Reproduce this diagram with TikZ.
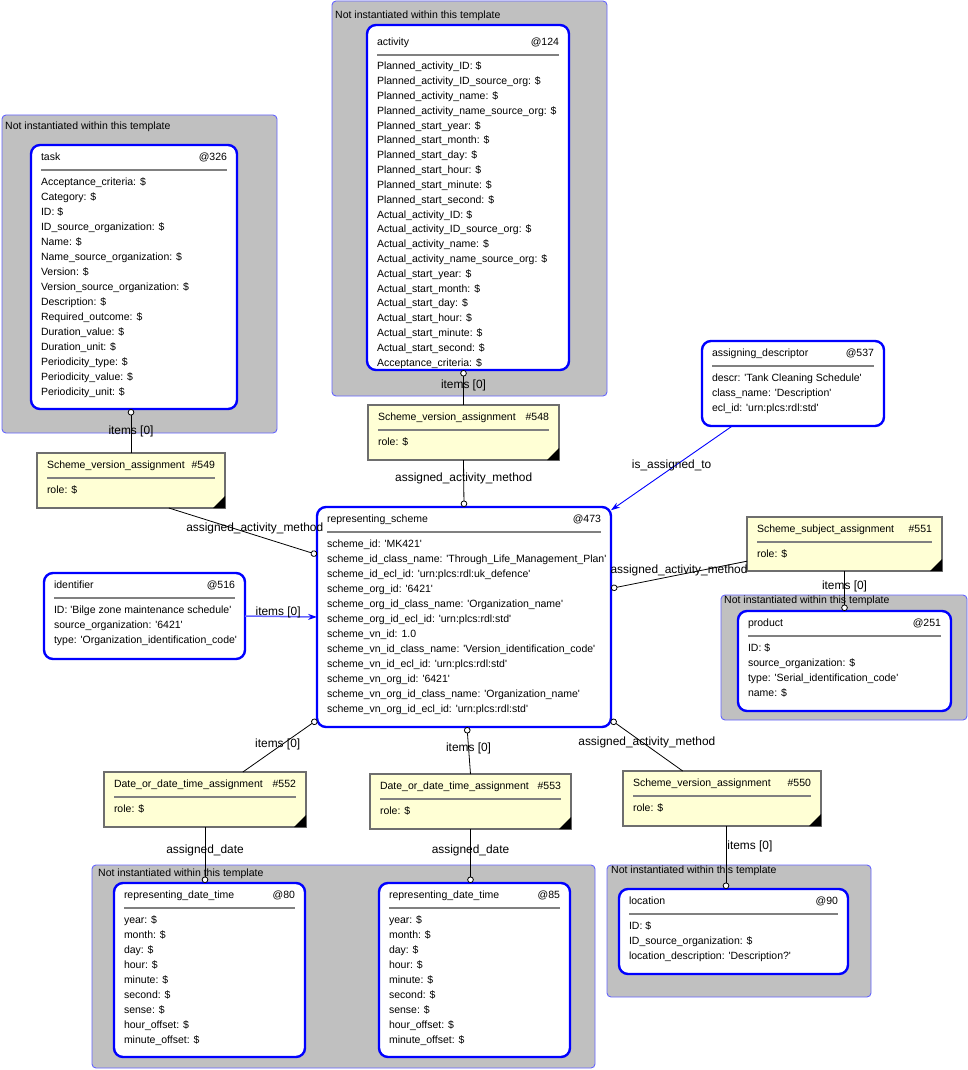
\documentclass[tikz,border=0pt]{standalone}
\usepackage{fontspec}
\setmainfont{Liberation Sans}[Ligatures=TeXOff]
\usetikzlibrary{arrows.meta}

\definecolor{umlBlue}{RGB}{0,0,255}
\definecolor{regionGray}{RGB}{192,192,192}
\definecolor{regionBlue}{RGB}{100,100,255}
\definecolor{noteYellow}{RGB}{255,255,213}
\definecolor{noteEdge}{RGB}{110,110,110}
\definecolor{ruleGray}{RGB}{128,128,128}

\newcommand{\attrfont}{\fontsize{10.5}{15}\selectfont}
\newcommand{\lblfont}{\fontsize{11.9}{14}\selectfont}
% body of a box: [extra] {width} {height} {title} {id} {lines}
\newcommand{\ebody}[6][]{%
  \parbox[t][#3pt][t]{#2pt}{#1\strut #4 \hfill #5\par
    \vskip4pt{\color{ruleGray}\hrule height 1.6pt}\vskip4pt
    \begin{tabular}[t]{@{}l@{}}#6\end{tabular}}}

\tikzset{
  region/.style={fill=regionGray, draw=regionBlue, line width=0.9pt, rounded corners=4pt},
  regionlbl/.style={font=\attrfont, anchor=base west, inner sep=0pt},
  entity/.style={draw=umlBlue, line width=2.4pt, rounded corners=9pt, fill=white,
    anchor=north west, inner xsep=10pt, inner ysep=5pt, outer sep=0pt, font=\attrfont},
  assign/.style={draw=noteEdge, line width=1.4pt, fill=noteYellow,
    anchor=north west, inner xsep=10pt, inner ysep=5pt, outer sep=0pt, font=\attrfont},
  link/.style={draw=black, line width=0.8pt, -{Circle[fill=white,length=6.5pt]}},
  isa/.style={draw=umlBlue, line width=0.9pt, -{Stealth[length=9pt,width=6pt]}},
  lbl/.style={font=\lblfont, inner sep=1pt},
}

\begin{document}
\begin{tikzpicture}[x=1pt, y=-1pt]
    \useasboundingbox (0,0) rectangle (968,1070);
    % template regions
    \draw[region] (2,115) rectangle ++(275,318);
    \draw[region] (332,1) rectangle ++(275,395);
    \draw[region] (721,595) rectangle ++(246,125);
    \draw[region] (92,865) rectangle ++(503,203);
    \draw[region] (607,865) rectangle ++(264,132);
    \node[regionlbl] (rtask) at (5,129.5) {Not instantiated within this template};
    \node[regionlbl] (ract) at (335,19) {Not instantiated within this template};
    \node[regionlbl] (rprod) at (724,603) {Not instantiated within this template};
    \node[regionlbl] (rdate) at (98,876) {Not instantiated within this template};
    \node[regionlbl] (rloc) at (611,873) {Not instantiated within this template};

    % entities
    \node[entity] (task) at (31,145) {\ebody{186}{254}{task}{@326}{Acceptance\_criteria: \$\\ Category: \$\\ ID: \$\\ ID\_source\_organization: \$\\ Name: \$\\ Name\_source\_organization: \$\\ Version: \$\\ Version\_source\_organization: \$\\ Description: \$\\ Required\_outcome: \$\\ Duration\_value: \$\\ Duration\_unit: \$\\ Periodicity\_type: \$\\ Periodicity\_value: \$\\ Periodicity\_unit: \$}};
    \node[entity] (act) at (367,25) {\ebody[\vspace*{5pt}\def\arraystretch{.987}]{182}{335}{activity}{@124}{Planned\_activity\_ID: \$\\ Planned\_activity\_ID\_source\_org: \$\\ Planned\_activity\_name: \$\\ Planned\_activity\_name\_source\_org: \$\\ Planned\_start\_year: \$\\ Planned\_start\_month: \$\\ Planned\_start\_day: \$\\ Planned\_start\_hour: \$\\ Planned\_start\_minute: \$\\ Planned\_start\_second: \$\\ Actual\_activity\_ID: \$\\ Actual\_activity\_ID\_source\_org: \$\\ Actual\_activity\_name: \$\\ Actual\_activity\_name\_source\_org: \$\\ Actual\_start\_year: \$\\ Actual\_start\_month: \$\\ Actual\_start\_day: \$\\ Actual\_start\_hour: \$\\ Actual\_start\_minute: \$\\ Actual\_start\_second: \$\\ Acceptance\_criteria: \$}};
    \node[entity] (desc) at (702,341) {\ebody{162}{75}{assigning\_descriptor}{@537}{descr: 'Tank Cleaning Schedule'\\ class\_name: 'Description'\\ ecl\_id: 'urn:plcs:rdl:std'}};
    \node[entity] (rs) at (317,507) {\ebody{274}{210}{representing\_scheme}{@473}{scheme\_id: 'MK421'\\ scheme\_id\_class\_name: 'Through\_Life\_Management\_Plan'\\ scheme\_id\_ecl\_id: 'urn:plcs:rdl:uk\_defence'\\ scheme\_org\_id: '6421'\\ scheme\_org\_id\_class\_name: 'Organization\_name'\\ scheme\_org\_id\_ecl\_id: 'urn:plcs:rdl:std'\\ scheme\_vn\_id: 1.0\\ scheme\_vn\_id\_class\_name: 'Version\_identification\_code'\\ scheme\_vn\_id\_ecl\_id: 'urn:plcs:rdl:std'\\ scheme\_vn\_org\_id: '6421'\\ scheme\_vn\_org\_id\_class\_name: 'Organization\_name'\\ scheme\_vn\_org\_id\_ecl\_id: 'urn:plcs:rdl:std'}};
    \node[entity] (ident) at (44,573) {\ebody{181}{76}{identifier}{@516}{ID: 'Bilge zone maintenance schedule'\\ source\_organization: '6421'\\ type: 'Organization\_identification\_code'}};
    \node[entity] (prod) at (738,611) {\ebody{193}{90}{product}{@251}{ID: \$\\ source\_organization: \$\\ type: 'Serial\_identification\_code'\\ name: \$}};
    \node[entity] (dt80) at (114,883) {\ebody{171}{164}{representing\_date\_time}{@80}{year: \$\\ month: \$\\ day: \$\\ hour: \$\\ minute: \$\\ second: \$\\ sense: \$\\ hour\_offset: \$\\ minute\_offset: \$}};
    \node[entity] (dt85) at (379,883) {\ebody{171}{164}{representing\_date\_time}{@85}{year: \$\\ month: \$\\ day: \$\\ hour: \$\\ minute: \$\\ second: \$\\ sense: \$\\ hour\_offset: \$\\ minute\_offset: \$}};
    \node[entity] (loc) at (619,889) {\ebody{209}{75}{location}{@90}{ID: \$\\ ID\_source\_organization: \$\\ location\_description: 'Description?'}};

    % assignments
    \node[assign] (sva549) at (37,453) {\ebody{168}{45}{Scheme\_version\_assignment}{\#549}{role: \$}};
    \node[assign] (sva548) at (368,405) {\ebody{171}{45}{Scheme\_version\_assignment}{\#548}{role: \$}};
    \node[assign] (ssa551) at (747,517) {\ebody{175}{44}{Scheme\_subject\_assignment}{\#551}{role: \$}};
    \node[assign] (dta552) at (104,772) {\ebody{182}{45}{Date\_or\_date\_time\_assignment}{\#552}{role: \$}};
    \node[assign] (dta553) at (370,774) {\ebody{181}{45}{Date\_or\_date\_time\_assignment}{\#553}{role: \$}};
    \node[assign] (sva550) at (623,771) {\ebody{178}{45}{Scheme\_version\_assignment}{\#550}{role: \$}};
    \foreach \n in {sva549,sva548,ssa551,dta552,dta553,sva550}
        \fill (\n.south east) -- ++(-12,0) -- ++(12,-12) -- cycle;

    % connectors
    \draw[link] (sva549.north) -- node[lbl] (l1) {items [0]} (sva549.north |- task.south);
    \draw[link] (sva548.north) -- node[lbl, pos=.57] (l2) {items [0]} (sva548.north |- act.south);
    \draw[link] (sva548.south) -- node[lbl, pos=.39] (l3) {assigned\_activity\_method} (rs.north);
    \draw[link] (sva549.-36) -- node[lbl, pos=.58, yshift=7pt] (l4) {assigned\_activity\_method} (rs.157);
    \draw[isa] (desc.215) -- node[lbl, yshift=3pt] (l5) {is\_assigned\_to} (rs.36);
    \draw[isa, draw=regionBlue, line width=1.5pt, -{Stealth[length=9pt,width=6pt,color=umlBlue]}] (ident.east) -- node[lbl, pos=.46, yshift=4pt] (l6) {items [0]} (rs.west);
    \draw[link] (ssa551.190) -- node[lbl, yshift=4pt] (l7) {assigned\_activity\_method} (rs.11);
    \draw[link] (ssa551.south) -- node[lbl, pos=.38] (l8) {items [0]} (prod.north);
    \draw[link] (dta552.36) -- node[lbl, pos=.47, yshift=3pt] (l9) {items [0]} (rs.215);
    \draw[link] (dta553.north) -- node[lbl, pos=.55] (l10) {items [0]} ([xshift=3pt]rs.south);
    \draw[link] (sva550.145) -- node[lbl, yshift=3pt] (l11) {assigned\_activity\_method} (rs.325);
    \draw[link] (dta552.south) -- node[lbl, pos=.42] (l12) {assigned\_date} (dta552.south |- dt80.north);
    \draw[link] (dta553.south) -- node[lbl, pos=.39] (l13) {assigned\_date} (dta553.south |- dt85.north);
    \draw[link] ([xshift=4pt]sva550.south) -- node[lbl, pos=.33, anchor=west] (l14) {items [0]} ([xshift=4pt]sva550.south |- loc.north);
\end{tikzpicture}
\end{document}
